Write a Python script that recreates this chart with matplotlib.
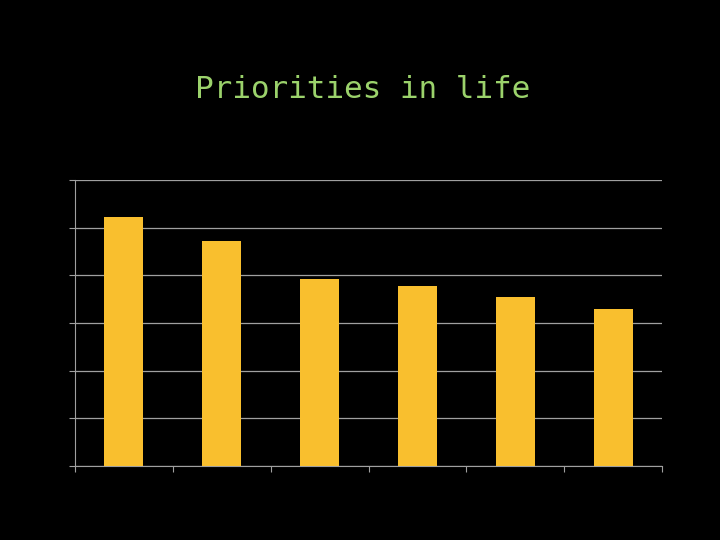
import matplotlib.pyplot as plt

# values (axis labels are black on black in the original)
categories = ['1', '2', '3', '4', '5', '6']
values = [5.22, 4.72, 3.92, 3.77, 3.54, 3.29]
yticks = [0, 1, 2, 3, 4, 5, 6]

fig = plt.figure(figsize=(7.2, 5.4), dpi=100, facecolor='black')
ax = fig.add_axes([75 / 720, 1 - 466 / 540, 587 / 720, 286 / 540])
ax.set_facecolor('black')

x = range(len(categories))
ax.bar(x, values, width=0.4, color='#F9BF2E', zorder=3)

ax.set_xlim(-0.5, len(categories) - 0.5)
ax.set_ylim(0, 6)
ax.set_yticks(yticks)
ax.set_yticklabels([str(t) for t in yticks], color='black')
ax.set_xticks(x)
ax.set_xticklabels(categories, color='black')
# small ticks at category boundaries
ax.set_xticks([i - 0.5 for i in range(len(categories) + 1)], minor=True)
ax.tick_params(axis='x', which='major', length=0)
ax.tick_params(axis='x', which='minor', length=4, color='#a0a0a0', width=0.8)
ax.tick_params(axis='y', length=4, color='#a0a0a0', width=0.8)

ax.yaxis.grid(True, color='#a0a0a0', linewidth=0.9, zorder=0)
for side in ['top', 'right']:
    ax.spines[side].set_visible(False)
ax.spines['left'].set_color('#a0a0a0')
ax.spines['bottom'].set_color('#a0a0a0')

fig.text(0.503, 1 - 90 / 540, 'Priorities in life', family='DejaVu Sans Mono',
         fontsize=22.3, color='#9BD26B', ha='center', va='center')

fig.savefig('out.png', dpi=100, facecolor='black')
